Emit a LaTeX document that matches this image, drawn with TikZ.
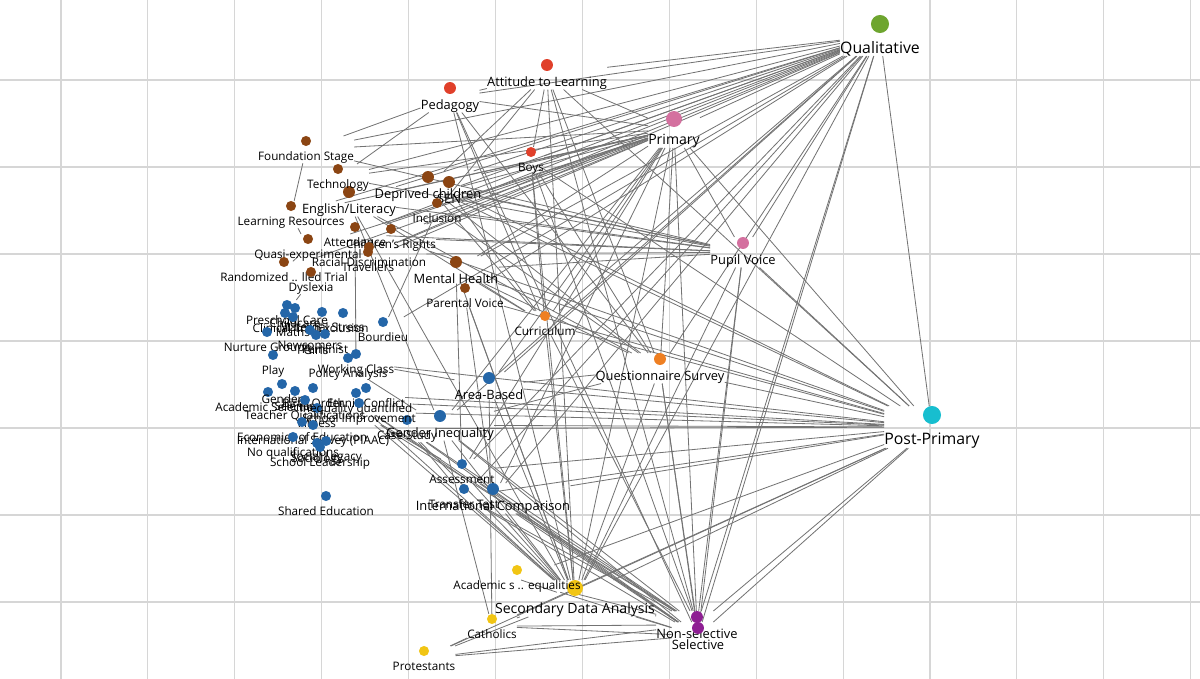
\documentclass[tikz,border=0pt]{standalone}
\usepackage{fontspec}
\setmainfont{Open Sans}
\usetikzlibrary{backgrounds}
\definecolor{cgreen}{HTML}{6EA52F}
\definecolor{ccyan}{HTML}{17BECF}
\definecolor{cpink}{HTML}{D4709F}
\definecolor{cred}{HTML}{E0402A}
\definecolor{corange}{HTML}{EE7F22}
\definecolor{cbrown}{HTML}{8B4513}
\definecolor{cblue}{HTML}{2466A8}
\definecolor{cyellow}{HTML}{F1C514}
\definecolor{cpurple}{HTML}{8E1F93}
\tikzset{
 gridline/.style={draw=black!16,line width=0.9pt},
 edge/.style={draw=black!55,line width=0.7pt},
 vs/.style={font=\fontsize{10}{12}\selectfont,inner sep=0pt,anchor=north,text height=20.5pt,yshift=4.3pt},
 vm/.style={font=\fontsize{11}{13}\selectfont,inner sep=0pt,anchor=north,text height=23pt,yshift=5.1pt},
 vl/.style={font=\fontsize{12}{14}\selectfont,inner sep=0pt,anchor=north,text height=28.2pt,yshift=6.8pt},
 vx/.style={font=\fontsize{13.5}{15}\selectfont,inner sep=0pt,anchor=north,text height=32.4pt,yshift=7.7pt},
 ds/.style={radius=4.3pt}, dm/.style={radius=5.1pt},
 dl/.style={radius=6.8pt}, dx/.style={radius=7.7pt}
}
\begin{document}
\begin{tikzpicture}[x=0.03cm,y=-0.03cm]
 \useasboundingbox (0,0) rectangle (1200,679);
 % topics and methods
 \foreach \n/\x/\y/\c/\s/\t in {
  qual/880/24/cgreen/x/Qualitative, post/932/415/ccyan/x/Post-Primary,
  prim/674/119/cpink/l/Primary, sda/575/588/cyellow/l/Secondary Data Analysis,
  pupil/743/243/cpink/m/Pupil Voice, quest/660/359/corange/m/Questionnaire Survey,
  nsel/697/617/cpurple/m/Non-selective, sel/698/628/cpurple/m/Selective,
  intl/493/489/cblue/m/International Comparison, gend/440/416/cblue/m/Gender Inequality,
  area/489/378/cblue/m/Area-Based, depr/428/177/cbrown/m/Deprived children,
  eng/349/192/cbrown/m/{English/Literacy}, mh/456/262/cbrown/m/Mental Health,
  sen/449/182/cbrown/m/SEN,
  att/547/65/cred/m/Attitude to Learning, ped/450/88/cred/m/Pedagogy,
  boys/531/152/cred/s/Boys, curr/545/316/corange/s/Curriculum,
  fst/306/141/cbrown/s/Foundation Stage, tech/338/169/cbrown/s/Technology,
  lres/291/206/cbrown/s/Learning Resources, incl/437/203/cbrown/s/Inclusion,
  attd/355/227/cbrown/s/Attendance, chr/391/229/cbrown/s/Children's Rights,
  quasi/308/239/cbrown/s/Quasi-experimental, racial/369/247/cbrown/s/Racial Discrimination,
  trav/368/252/cbrown/s/Travellers, pv/465/288/cbrown/s/Parental Voice,
  rct/284/262/cbrown/s/Randomized .. lled Trial, dys/311/272/cbrown/s/Dyslexia,
  assess/462/464/cblue/s/Assessment, ttest/464/489/cblue/s/Transfer Test,
  cases/407/420/cblue/s/Case Study, shared/326/496/cblue/s/Shared Education,
  acad/517/570/cyellow/s/Academic s .. equalities, cath/492/619/cyellow/s/Catholics,
  prot/424/651/cyellow/s/Protestants,
  pre/287/305/cblue/s/Preschool Care, chc/295/308/cblue/s/Childcare,
  clin/285/313/cblue/s/Clinical Trial, maths/293/317/cblue/s/Maths,
  mat/322/312/cblue/s/Maternal Stress, excl/343/313/cblue/s/Exclusion,
  bour/383/322/cblue/s/Bourdieu, nurt/267/332/cblue/s/Nurture Groups,
  newc/310/330/cblue/s/Newcomers, girls/316/335/cblue/s/Girls,
  fem/325/334/cblue/s/Feminist, play/273/355/cblue/s/Play,
  wcl/356/354/cblue/s/Working Class, pol/348/358/cblue/s/Policy Analysis,
  acs/268/392/cblue/s/Academic Selection, gnd/282/384/cblue/s/Gender,
  sci/295/391/cblue/s/Science, birth/313/388/cblue/s/Birth Order,
  tq/305/400/cblue/s/Teacher Qualifications, fit/317/408/cblue/s/Fitness,
  iq/356/393/cblue/s/Inequality quantified, ethn/366/388/cblue/s/Ethnic Conflict,
  simp/359/403/cblue/s/School Improvement, econ/302/422/cblue/s/Economics of Education,
  piaac/313/425/cblue/s/International Survey (PIAAC), noq/293/437/cblue/s/No qualifications,
  soc/317/443/cblue/s/Sociology, socl/326/441/cblue/s/Social Legacy,
  sl/320/447/cblue/s/School Leadership}{
  \node[v\s] (\n) at (\x,\y) {\t};
  \fill[\c,d\s] (\x,\y) circle;
 }
 \begin{pgfonlayer}{background}
 \foreach \i in {0,...,13}
  \draw[gridline] ({61+86.9*\i},0) -- ++(0,679);
 \foreach \j in {0,...,6}
  \draw[gridline] (0,{80+87*\j}) -- ++(1200,0);
 % links
 \foreach \a/\b in {
  qual/att, qual/fst, qual/tech, qual/depr, qual/sen, qual/incl, qual/eng, qual/chr,
  qual/mh, qual/pv, qual/boys, qual/prim, qual/pupil, qual/curr, qual/quest, qual/area,
  qual/gend, qual/sda, qual/nsel, qual/sel, qual/post, qual/intl, qual/ttest, qual/attd,
  qual/racial, qual/lres, qual/bour, qual/ped, qual/assess,
  prim/fst, prim/tech, prim/eng, prim/depr, prim/sen, prim/incl, prim/attd, prim/chr,
  prim/racial, prim/mh, prim/lres, prim/quasi, prim/att, prim/ped, prim/boys, prim/quest,
  prim/curr, prim/sda, prim/post, prim/pupil, prim/area, prim/gend, prim/assess, prim/intl,
  prim/nsel, prim/trav, prim/rct,
  post/pupil, post/pv, post/mh, post/curr, post/quest, post/area, post/gend, post/cases,
  post/simp, post/ethn, post/iq, post/wcl, post/assess, post/ttest, post/intl, post/sda,
  post/nsel, post/sel, post/cath, post/acad, post/depr, post/sen, post/boys, post/att,
  post/prot, post/chr,
  sda/ped, sda/att, sda/boys, sda/curr, sda/quest, sda/area, sda/gend, sda/assess,
  sda/ttest, sda/intl, sda/acad, sda/cath, sda/prot, sda/nsel, sda/sel, sda/cases,
  sda/iq, sda/simp, sda/pupil, sda/pv, sda/mh, sda/eng,
  nsel/cath, nsel/prot, nsel/acad, nsel/ttest, nsel/assess, nsel/intl, nsel/gend,
  nsel/quest, nsel/curr, nsel/pupil, nsel/att, nsel/cases, nsel/simp, nsel/boys,
  sel/cath, sel/prot, sel/acad, sel/ttest, sel/assess, sel/intl, sel/gend, sel/quest,
  sel/pupil, sel/cases, sel/iq, sel/ped,
  pupil/depr, pupil/sen, pupil/eng, pupil/incl, pupil/mh, pupil/chr, pupil/attd,
  pupil/tech, pupil/racial, pupil/fst,
  quest/ped, quest/att, quest/boys, quest/depr, quest/mh, quest/gend, quest/area,
  quest/eng, quest/incl,
  curr/ped, curr/boys, curr/depr, curr/sen, curr/eng, curr/mh,
  ped/att, ped/fst, ped/tech, fst/lres, att/depr, att/boys, att/incl, cath/prot,
  gend/cath, area/cath, attd/wcl, eng/gend, quasi/rct, dys/pre, bour/incl, iq/intl,
  wcl/area, pol/gend, simp/assess, cases/ttest, lres/quasi, mh/assess, pv/intl}
  \draw[edge] (\a) -- (\b);
 \end{pgfonlayer}
\end{tikzpicture}
\end{document}
